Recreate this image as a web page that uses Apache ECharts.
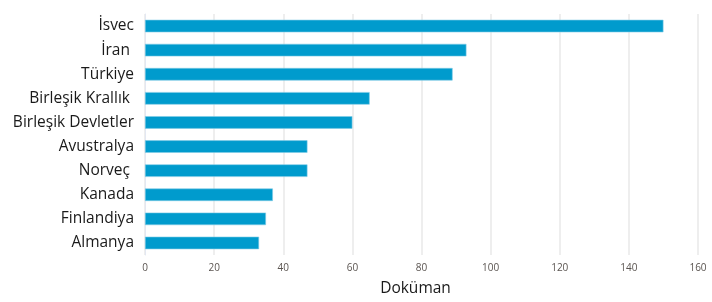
<!DOCTYPE html>
<html>
<head>
<meta charset="utf-8">
<script src="https://cdn.jsdelivr.net/npm/echarts@6/dist/echarts.min.js"></script>
<style>
  html, body { margin: 0; padding: 0; background: #fff; }
  #chart { width: 712px; height: 302px; }
</style>
</head>
<body>
<div id="chart"></div>
<script>
// ulkeler, yukaridan asagiya
var countries = ['İsvec', 'İran ', 'Türkiye', 'Birleşik Krallık ', 'Birleşik Devletler',
  'Avustralya', 'Norveç ', 'Kanada', 'Finlandiya', 'Almanya']
var docCounts = [150, 93, 89, 65, 60, 47, 47, 37, 35, 33]
var xTicks = [0, 20, 40, 60, 80, 100, 120, 140, 160]

var myChart = echarts.init(document.getElementById('chart'))
myChart.setOption({
  animation: false,
  grid: {
    left: 145,
    right: 14,
    top: 14,
    bottom: 45
  },
  xAxis: {
    type: 'value',
    min: xTicks[0],
    max: xTicks[xTicks.length - 1],
    interval: 20,
    name: 'Doküman',
    nameLocation: 'middle',
    nameGap: 26,
    nameTextStyle: {
      fontFamily: 'Open Sans',
      fontSize: 15.5,
      color: '#1a1a1a',
      padding: [0, 12, 0, 0]
    },
    axisLine: { show: false },
    axisTick: { show: false },
    axisLabel: {
      fontFamily: 'Open Sans',
      fontSize: 10,
      color: '#5a5450',
      margin: 8
    },
    splitLine: {
      lineStyle: { color: '#e8e8e8', width: 1.5 }
    }
  },
  yAxis: {
    type: 'category',
    inverse: true,
    data: countries,
    axisLine: { show: true, lineStyle: { color: '#e3e8f2' } },
    axisTick: { show: false },
    axisLabel: {
      fontFamily: 'Open Sans',
      fontSize: 15.5,
      color: '#1a1a1a',
      margin: 11
    }
  },
  series: [
    {
      name: 'Doküman',
      type: 'bar',
      barCategoryGap: '48%',
      itemStyle: {
        color: '#009bcd',
        borderColor: '#7fcbe6',
        borderWidth: 0.6
      },
      data: docCounts
    }
  ]
})
</script>
</body>
</html>
